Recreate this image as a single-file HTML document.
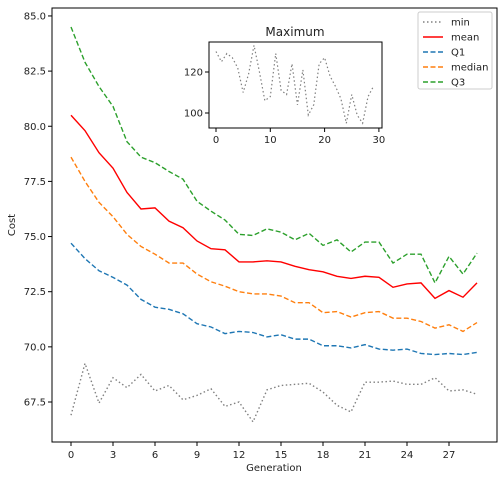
<!DOCTYPE html>
<html><head><meta charset="utf-8"><style>
body{margin:0;background:#fff;font-family:"Liberation Sans","DejaVu Sans",sans-serif;}
svg text{font-family:"DejaVu Sans","Liberation Sans",sans-serif;fill:#222;}
</style></head><body>
<svg id="c" width="504" height="480" xmlns="http://www.w3.org/2000/svg"></svg>
<script>
const generations=[0,1,2,3,4,5,6,7,8,9,10,11,12,13,14,15,16,17,18,19,20,21,22,23,24,25,26,27,28,29];
const minVals=[66.9,69.25,67.45,68.6,68.15,68.75,68.0,68.25,67.6,67.8,68.1,67.3,67.5,66.6,68.05,68.25,68.3,68.35,67.95,67.35,67.05,68.4,68.4,68.45,68.3,68.3,68.6,68.0,68.05,67.85];
const meanVals=[80.5,79.8,78.8,78.1,77.0,76.25,76.3,75.7,75.4,74.8,74.45,74.4,73.85,73.85,73.9,73.85,73.65,73.5,73.4,73.2,73.1,73.2,73.15,72.7,72.85,72.9,72.2,72.55,72.25,72.9];
const q1Vals=[74.7,74.0,73.45,73.15,72.8,72.15,71.8,71.7,71.5,71.05,70.9,70.6,70.7,70.65,70.45,70.55,70.35,70.35,70.05,70.05,69.95,70.1,69.9,69.85,69.9,69.7,69.65,69.7,69.65,69.75];
const medianVals=[78.6,77.5,76.55,75.9,75.1,74.55,74.2,73.8,73.8,73.3,72.95,72.75,72.5,72.4,72.4,72.3,72.0,72.0,71.55,71.6,71.35,71.55,71.6,71.3,71.3,71.15,70.85,71.0,70.7,71.1];
const q3Vals=[84.5,82.9,81.8,80.9,79.3,78.6,78.35,77.95,77.6,76.6,76.15,75.75,75.1,75.05,75.35,75.2,74.85,75.15,74.6,74.85,74.3,74.75,74.75,73.8,74.2,74.2,72.9,74.1,73.3,74.25];
const maxVals=[130,125,129,127,122,110,119,133,120,106,108,129,111,109,124,104,121,99,104,124,127,118,113,107,95,109,99,95,108,113];
const xTicks=[0,3,6,9,12,15,18,21,24,27];
const yTicks=[67.5,70.0,72.5,75.0,77.5,80.0,82.5,85.0];
const inXTicks=[0,10,20,30];
const inYTicks=[100,120];

const NS="http://www.w3.org/2000/svg";
const svg=document.getElementById('c');
function mk(t,a,p){const e=document.createElementNS(NS,t);for(const k in a)e.setAttribute(k,a[k]);(p||svg).appendChild(e);return e;}
// main axes
const L=52,R=497,T=8,B=442;
const X=v=>71+v*14.0;
const Y=v=>402-(v-67.5)*22.06;
const frame=mk('rect',{x:L,y:T,width:R-L,height:B-T,fill:'none',stroke:'#000','stroke-width':1});


xTicks.forEach(t=>{
  mk('line',{x1:X(t),x2:X(t),y1:B,y2:B+4,stroke:'#000'});
  const tx=mk('text',{x:X(t),y:B+16,'font-size':10,'text-anchor':'middle'});tx.textContent=t;
  
  
});
yTicks.forEach(t=>{
  mk('line',{x1:L-4,x2:L,y1:Y(t),y2:Y(t),stroke:'#000'});
  const tx=mk('text',{x:L-6,y:Y(t)+3.5,'font-size':10,'text-anchor':'end'});tx.textContent=t.toFixed(1);
  
  
});
const xt=mk('text',{x:274,y:471,'font-size':10,'text-anchor':'middle'});xt.textContent='Generation';


const yt=mk('text',{x:15,y:225,'font-size':10,'text-anchor':'middle',transform:'rotate(-90 15 225)'});yt.textContent='Cost';



const series=[
 {n:'min',v:minVals,c:'#808080',d:'1.5,2.5'},
 {n:'mean',v:meanVals,c:'#ff0000',d:''},
 {n:'Q1',v:q1Vals,c:'#1f77b4',d:'5,2.5'},
 {n:'median',v:medianVals,c:'#ff7f0e',d:'5,2.5'},
 {n:'Q3',v:q3Vals,c:'#2ca02c',d:'5,2.5'}];
series.forEach(s=>{
  const pts=s.v.map((v,i)=>X(generations[i])+','+Y(v)).join(' ');
  const a={points:pts,fill:'none',stroke:s.c,'stroke-width':1.4};
  if(s.d)a['stroke-dasharray']=s.d;
  const p=mk('polyline',a);
  
  
});
// legend
const lg=mk('g',{});


mk('rect',{x:418,y:12,width:74,height:77,fill:'#fff',stroke:'#ccc',rx:2},lg);
series.forEach((s,i)=>{
  const y=22+i*15;
  const a={x1:423,x2:443,y1:y,y2:y,stroke:s.c,'stroke-width':1.4};
  if(s.d)a['stroke-dasharray']=s.d;
  mk('line',a,lg);
  const t=mk('text',{x:451,y:y+3.5,'font-size':10},lg);t.textContent=s.n;
  
  
});
// inset
const iL=209,iR=382,iT=42,iB=128;
const IX=v=>216+v*5.43;
const IY=v=>113-(v-100)*2.05;
const ir=mk('rect',{x:iL,y:iT,width:iR-iL,height:iB-iT,fill:'#fff',stroke:'#000'});


inXTicks.forEach(t=>{
  mk('line',{x1:IX(t),x2:IX(t),y1:iB,y2:iB+4,stroke:'#000'});
  const tx=mk('text',{x:IX(t),y:iB+15,'font-size':10,'text-anchor':'middle'});tx.textContent=t;
  
  
});
inYTicks.forEach(t=>{
  mk('line',{x1:iL-4,x2:iL,y1:IY(t),y2:IY(t),stroke:'#000'});
  const tx=mk('text',{x:iL-6,y:IY(t)+3.5,'font-size':10,'text-anchor':'end'});tx.textContent=t;
  
  
});
const ip=mk('polyline',{points:maxVals.map((v,i)=>IX(generations[i])+','+IY(v)).join(' '),fill:'none',stroke:'#808080','stroke-width':1.2,'stroke-dasharray':'1.5,2.5'});


const it=mk('text',{x:295,y:36,'font-size':12,'text-anchor':'middle'});it.textContent='Maximum';


</script>
</body></html>
